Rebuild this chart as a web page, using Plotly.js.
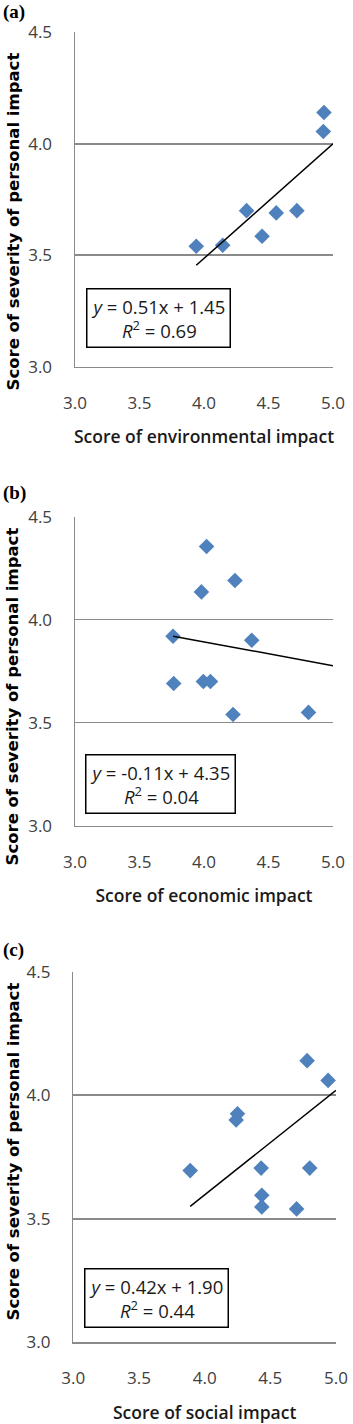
<!DOCTYPE html>
<html><head><meta charset="utf-8">
<script src="https://cdn.plot.ly/plotly-3.0.1.min.js"></script>
<style>html,body{margin:0;padding:0;background:#fff}#chart{width:353px;height:1424px}</style>
</head><body><div id="chart"></div>
<script>
// Panel (a): environmental impact
const envX = [4.93, 4.925, 4.33, 4.56, 4.72, 4.45, 3.94, 4.145];
const envY = [4.14, 4.055, 3.70, 3.69, 3.70, 3.585, 3.54, 3.545];
const envTrendX = [3.94, 5.0];
const envTrendY = [3.455, 4.0];
// Panel (b): economic impact
const ecoX = [4.02, 4.24, 3.98, 3.76, 4.37, 3.765, 3.995, 4.05, 4.225, 4.81];
const ecoY = [4.355, 4.19, 4.135, 3.92, 3.90, 3.69, 3.70, 3.70, 3.54, 3.55];
const ecoTrendX = [3.76, 5.0];
const ecoTrendY = [3.92, 3.777];
// Panel (c): social impact
const socX = [4.78, 4.94, 4.25, 4.24, 3.89, 4.43, 4.80, 4.435, 4.435, 4.70];
const socY = [4.14, 4.06, 3.925, 3.90, 3.695, 3.705, 3.705, 3.595, 3.548, 3.54];
const socTrendX = [3.89, 5.0];
const socTrendY = [3.55, 4.02];

const xTitles = ["Score of environmental impact", "Score of economic impact", "Score of social impact"];
const yTitle = "Score of severity of personal impact";
const panelLabels = ["(a)", "(b)", "(c)"];
const equations = ["<i>y</i> = 0.51x + 1.45<br><i>R</i><sup>2</sup> = 0.69",
                   "<i>y</i> = -0.11x + 4.35<br><i>R</i><sup>2</sup> = 0.04",
                   "<i>y</i> = 0.42x + 1.90<br><i>R</i><sup>2</sup> = 0.44"];
const xTicks = [3.0, 3.5, 4.0, 4.5, 5.0];
const yTicks = [3.0, 3.5, 4.0, 4.5];

const W = 353, H = 1424;
const px = v => v / W, py = v => 1 - v / H;
const blue = '#4f81bd';
const gray = '#8a8a8a';
const tickFont = {family: 'Open Sans, sans-serif', size: 17, color: '#404040'};
const xTitleFont = {family: 'Open Sans, sans-serif', size: 17.5, color: '#1a1a1a', weight: 600};
const yTitleFont = {family: 'DejaVu Sans, Verdana, sans-serif', size: 16.5, color: '#000', weight: 700};

const panels = [
  {x: envX, y: envY, tx: envTrendX, ty: envTrendY, xd: [75, 333], yd: [32.3, 366.7], box: [158.8, 318.3], lab: 12, yt: 222},
  {x: ecoX, y: ecoY, tx: ecoTrendX, ty: ecoTrendY, xd: [75, 333], yd: [516.7, 825.7], box: [160, 784.3], lab: 493, yt: 697},
  {x: socX, y: socY, tx: socTrendX, ty: socTrendY, xd: [73.3, 336], yd: [971.7, 1342.3], box: [156.3, 1297.8], lab: 950, yt: 1152}
];

const data = [];
const layout = {
  width: W, height: H, margin: {l: 0, r: 0, t: 0, b: 0},
  paper_bgcolor: '#fff', plot_bgcolor: '#fff', showlegend: false,
  annotations: []
};

panels.forEach((p, i) => {
  const s = i === 0 ? '' : String(i + 1);
  data.push({x: p.x, y: p.y, type: 'scatter', mode: 'markers', xaxis: 'x' + s, yaxis: 'y' + s,
    marker: {symbol: 'diamond', size: 12, color: blue}, cliponaxis: false});
  data.push({x: p.tx, y: p.ty, type: 'scatter', mode: 'lines', xaxis: 'x' + s, yaxis: 'y' + s,
    line: {color: '#000', width: 1.5}});
  layout['xaxis' + s] = {
    domain: [px(p.xd[0]), px(p.xd[1])], range: [3, 5], anchor: 'y' + s,
    tickvals: xTicks, ticktext: xTicks.map(v => v.toFixed(1)),
    showgrid: false, zeroline: false, showline: true, linecolor: gray, linewidth: 1.5,
    ticks: '', ticklabelstandoff: 20, tickfont: tickFont, fixedrange: true,
    title: {text: xTitles[i], font: xTitleFont, standoff: 18}
  };
  layout['yaxis' + s] = {
    domain: [py(p.yd[1]), py(p.yd[0])], range: [3, 4.5], anchor: 'x' + s,
    tickvals: yTicks, ticktext: yTicks.map(v => v.toFixed(1)),
    showgrid: true, gridcolor: gray, gridwidth: 1.5, zeroline: false,
    showline: true, linecolor: gray, linewidth: 1.5,
    ticks: '', ticklabelstandoff: 18, tickfont: tickFont, fixedrange: true
  };
  layout.annotations.push({
    xref: 'paper', yref: 'paper', x: px(12.5), y: py(p.yt),
    text: yTitle, textangle: -90, showarrow: false, font: yTitleFont,
    xanchor: 'center', yanchor: 'middle'
  });
  layout.annotations.push({
    xref: 'paper', yref: 'paper', x: px(1), y: py(p.lab), text: '<b>' + panelLabels[i] + '</b>',
    showarrow: false, xanchor: 'left', yanchor: 'middle',
    font: {family: 'Liberation Serif, Times New Roman, serif', size: 19, color: '#000'}
  });
  layout.annotations.push({
    xref: 'paper', yref: 'paper', x: px(p.box[0]), y: py(p.box[1]), text: equations[i],
    showarrow: false, xanchor: 'center', yanchor: 'middle', align: 'center',
    font: {family: 'Open Sans, sans-serif', size: 18.5, color: '#1a1a1a'},
    bordercolor: '#000', borderwidth: 1.5, borderpad: 4, bgcolor: '#fff'
  });
});

Plotly.newPlot('chart', data, layout, {displayModeBar: false, staticPlot: true});
</script></body></html>
